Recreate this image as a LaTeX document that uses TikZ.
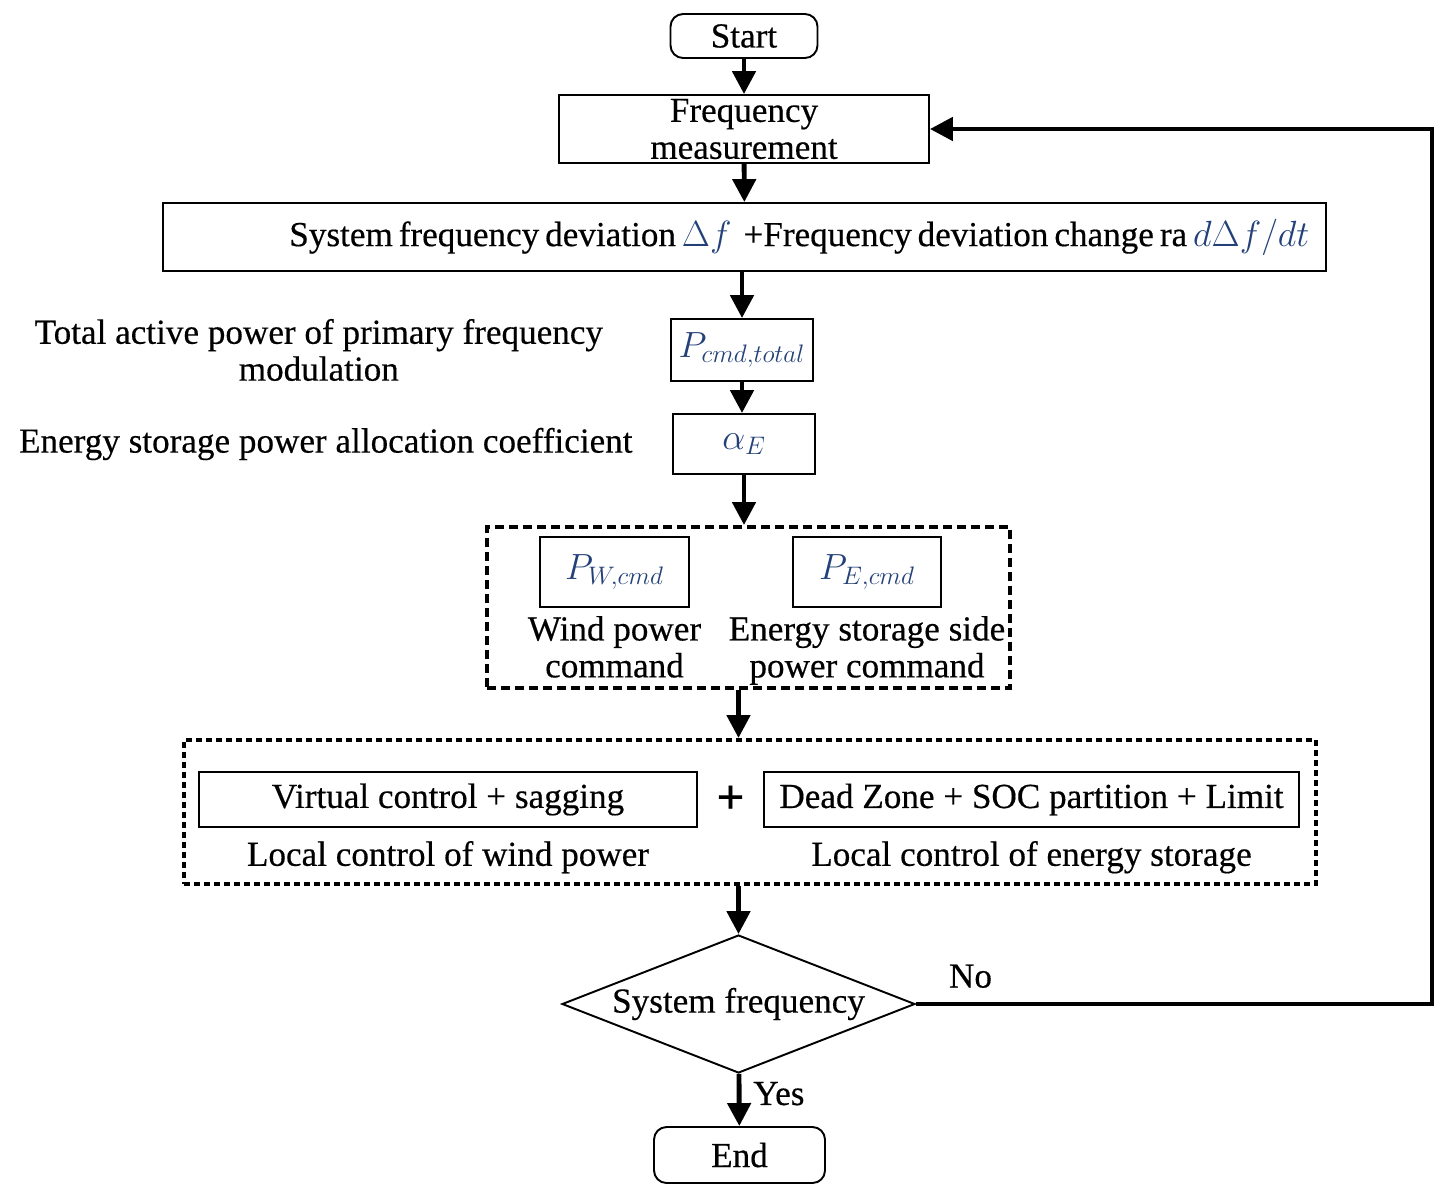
\documentclass[tikz,border=0pt]{standalone}
\usepackage{fontspec}
\setmainfont{Liberation Serif}[FakeBold=0.4]
\usepackage{amsmath}
\usepackage{xcolor}
\usetikzlibrary{arrows.meta, positioning, shapes.geometric, calc}
\definecolor{mathblue}{RGB}{35,65,120}
\newcommand{\fcfont}{\fontsize{20}{21}\selectfont}
\newcommand{\mq}[1]{{\color{mathblue}$#1$}}

\begin{document}
\begin{tikzpicture}[
    x=0.02cm, y=-0.02cm,
    every node/.style={font=\fcfont},
    term/.style={rectangle, rounded corners=0.25cm, draw, line width=1.1pt, inner sep=0pt},
    proc/.style={rectangle, draw, line width=1.1pt, inner sep=0pt, align=center},
    group/.style={rectangle, draw, line width=2.3pt, dash pattern=on 0.18cm off 0.1cm, inner sep=0pt},
    groupdot/.style={group, dash pattern=on 0.12cm off 0.08cm},
    decision/.style={diamond, draw, line width=1.1pt, inner sep=0pt, aspect=2.56},
    lbl/.style={inner sep=1pt, align=center},
    edge/.style={-{Triangle[length=0.46cm, width=0.46cm]}, line width=2.8pt}
]
\useasboundingbox (0,0) rectangle (1446,1194);

% Main column
\node[term, minimum width=2.94cm, minimum height=0.88cm] (start) at (744,36) {Start};
\node[proc, minimum width=7.4cm, minimum height=1.36cm] (meas) at (744,129) {Frequency\\measurement};
\node[proc, minimum width=23.26cm, minimum height=1.36cm, text width=22.6cm, align=right] (dev) at (744.5,237)
    {\spaceskip=0.17em\relax\mbox{System frequency deviation \mq{\Delta f}\ \ +Frequency deviation change ra \mq{d\Delta f/dt}}};
\node[proc, minimum width=2.84cm, minimum height=1.24cm] (pcmd) at (742,350) {\mq{P_{cmd,total}}};
\node[proc, minimum width=2.84cm, minimum height=1.2cm] (alpha) at (744,444) {\mq{\alpha_E}};

% Side labels
\node[lbl, left=1.3cm of pcmd] (pcmdtxt) {Total active power of primary frequency\\modulation};
\node[lbl, left=0.75cm of alpha] (alphatxt) {Energy storage power allocation coefficient};

% Command split
\node[group, minimum width=10.46cm, minimum height=3.22cm] (cmdgrp) at (748.5,607.5) {};
\node[proc, minimum width=2.98cm, minimum height=1.4cm] (pw) at (614.5,572) {\mq{P_{W,cmd}}};
\node[proc, minimum width=2.96cm, minimum height=1.4cm] (pe) at (867,572) {\mq{P_{E,cmd}}};
\node[lbl, below=0.12cm of pw] (pwtxt) {Wind power\\command};
\node[lbl, below=0.12cm of pe] (petxt) {Energy storage side\\power command};

% Local control
\node[groupdot, minimum width=22.64cm, minimum height=2.88cm] (ctrlgrp) at (750,812) {};
\node[proc, minimum width=9.96cm, minimum height=1.1cm] (virt) at (448,799.5) {Virtual control + sagging};
\node[proc, minimum width=10.7cm, minimum height=1.1cm] (dead) at (1031.5,799.5) {Dead Zone + SOC partition + Limit};
\node[font=\fontsize{28}{28}\selectfont\bfseries] (plus) at ($(virt.east)!0.5!(dead.west)$) {+};
\node[lbl, below=0.22cm of virt] (virttxt) {Local control of wind power};
\node[lbl, below=0.22cm of dead] (deadtxt) {Local control of energy storage};

% Decision
\node[decision, minimum width=7.06cm, minimum height=2.76cm] (dec) at (738.5,1004) {System frequency};
\node[term, minimum width=3.42cm, minimum height=1.12cm] (end) at (739.5,1155) {End};
\coordinate (fbdown) at (1432,1004);
\node[lbl, above right=0.28cm and 0.62cm of dec.east] (no) {No};

% Edges
\draw[edge] (start) -- (meas);
\draw[edge] (meas) -- (dev);
\draw[edge] (dev.south -| pcmd) -- (pcmd.north);
\draw[edge] (pcmd.south) -- (pcmd.south |- alpha.north);
\draw[edge] (alpha) -- (alpha |- cmdgrp.north);
\draw[edge] (cmdgrp.south -| dec) -- (dec |- ctrlgrp.north);
\draw[edge] (ctrlgrp.south -| dec) -- (dec);
\draw[edge] (dec) -- node[lbl, right=0.2cm, pos=0.38] (yes) {Yes} (end);
\draw[edge] (dec.east) -- (fbdown) |- (meas.east);

\end{tikzpicture}
\end{document}
